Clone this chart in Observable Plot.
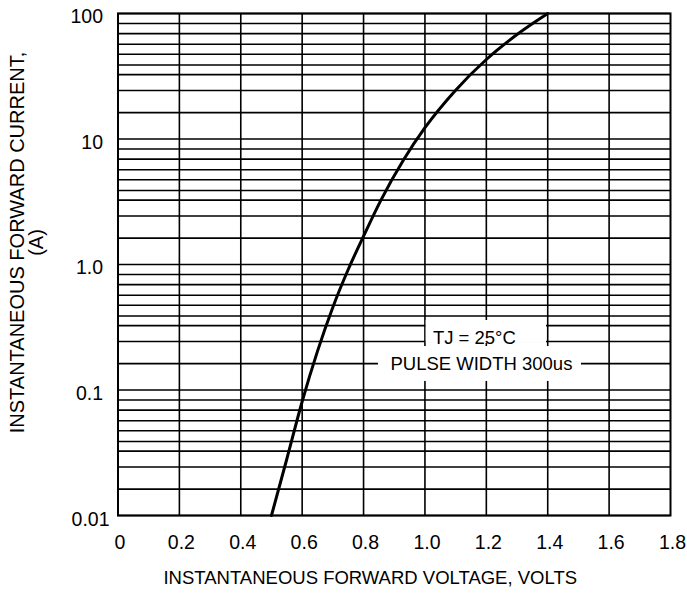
<!DOCTYPE html>
<html>
<head>
<meta charset="utf-8">
<script src="https://cdn.jsdelivr.net/npm/d3@7"></script>
<script src="https://cdn.jsdelivr.net/npm/@observablehq/plot@0.6"></script>
<style>
  html, body { margin: 0; padding: 0; background: #fff; }
  #chart { width: 687px; height: 596px; }
</style>
</head>
<body>
<div id="chart"></div>
<script>
// Forward voltage (V) vs instantaneous forward current (A)
const voltage = [0.50, 0.55, 0.60, 0.65, 0.70, 0.75, 0.80, 0.855, 0.93, 1.00, 1.10, 1.20, 1.30, 1.40];
const current = [0.010, 0.0282, 0.081, 0.204, 0.457, 0.912, 1.68, 3.2, 6.8, 12.3, 24.5, 43, 68, 100];

// Axis ticks
const xTicks = [0, 0.2, 0.4, 0.6, 0.8, 1.0, 1.2, 1.4, 1.6, 1.8];
const xTickLabels = ["0", "0.2", "0.4", "0.6", "0.8", "1.0", "1.2", "1.4", "1.6", "1.8"];
const yTicks = [0.01, 0.1, 1, 10, 100];
const yTickLabels = ["0.01", "0.1", "1.0", "10", "100"];
const xGrid = [0.2, 0.4, 0.6, 0.8, 1.0, 1.2, 1.4, 1.6];
// minor horizontal gridlines: fraction of a decade below each decade line (as drawn on the sheet)
const gridFrac = [0.08, 0.16, 0.245, 0.325, 0.41, 0.487, 0.613, 0.79];
const decades = [-2, -1, 0, 1];

// Annotation
const noteLines = ["TJ = 25°C", "PULSE WIDTH 300us"];

// Titles
const xTitle = "INSTANTANEOUS FORWARD VOLTAGE, VOLTS";
const yTitle = ["INSTANTANEOUS FORWARD CURRENT,", "(A)"];

const curve = voltage.map((v, i) => ({v, a: current[i]}));
const yGrid = [...yTicks];
for (const d of decades) for (const f of gridFrac) yGrid.push(Math.pow(10, d + 1 - f));

const noteBoxes = [
  {x1: 1.004, x2: 1.396, y1: 0.235, y2: 0.358},
  {x1: 0.8485, x2: 1.51, y1: 0.117, y2: 0.222}
];
const notes = [
  {x: 1.161, y: 0.257, t: noteLines[0]},
  {x: 1.184, y: 0.1617, t: noteLines[1]}
];

const FONT = "'Liberation Sans', Arial, Helvetica, sans-serif";
const yLabel = d => yTickLabels[yTicks.indexOf(d)];

const chart = Plot.plot({
  width: 687,
  height: 596,
  marginTop: 13,
  marginBottom: 81,
  marginLeft: 117.5,
  marginRight: 17,
  style: {fontFamily: FONT, fontSize: "18.5px", color: "#000", background: "#fff"},
  x: {domain: [0, 1.8]},
  y: {type: "log", domain: [0.01, 100]},
  marks: [
    Plot.ruleY(yGrid, {stroke: "#000", strokeWidth: 1.6}),
    Plot.ruleX(xGrid, {stroke: "#000", strokeWidth: 1.6}),
    Plot.rect(noteBoxes, {x1: "x1", x2: "x2", y1: "y1", y2: "y2", fill: "#fff"}),
    Plot.frame({stroke: "#000", strokeWidth: 2}),
    Plot.line(curve, {x: "v", y: "a", curve: "monotone-x", stroke: "#000", strokeWidth: 3}),
    Plot.text(notes, {x: "x", y: "y", text: "t", fill: "#000", fontSize: 18.5}),
    Plot.axisX({ticks: xTicks, tickFormat: d => xTickLabels[xTicks.indexOf(d)], tickSize: 0, tickPadding: 19.5, dx: 2, label: null, fontSize: 19.5}),
    Plot.axisY({ticks: yTicks.slice(1), tickFormat: yLabel, tickSize: 0, tickPadding: 15, dy: 3.5, label: null, fontSize: 19.5}),
    Plot.axisY({ticks: yTicks.slice(0, 1), tickFormat: yLabel, tickSize: 0, tickPadding: 8.5, dy: 4.5, label: null, fontSize: 19.5}),
    Plot.text([xTitle], {text: d => d, frameAnchor: "bottom", dx: -24, dy: 68, fontSize: 18.5}),
    Plot.text([yTitle[0]], {text: d => d, frameAnchor: "left", textAnchor: "middle", rotate: -90, dx: -100.5, dy: -22, fontSize: 20}),
    Plot.text([yTitle[1]], {text: d => d, frameAnchor: "left", textAnchor: "middle", rotate: -90, dx: -81, dy: -22, fontSize: 20})
  ]
});
document.getElementById("chart").appendChild(chart);
</script>
</body>
</html>
